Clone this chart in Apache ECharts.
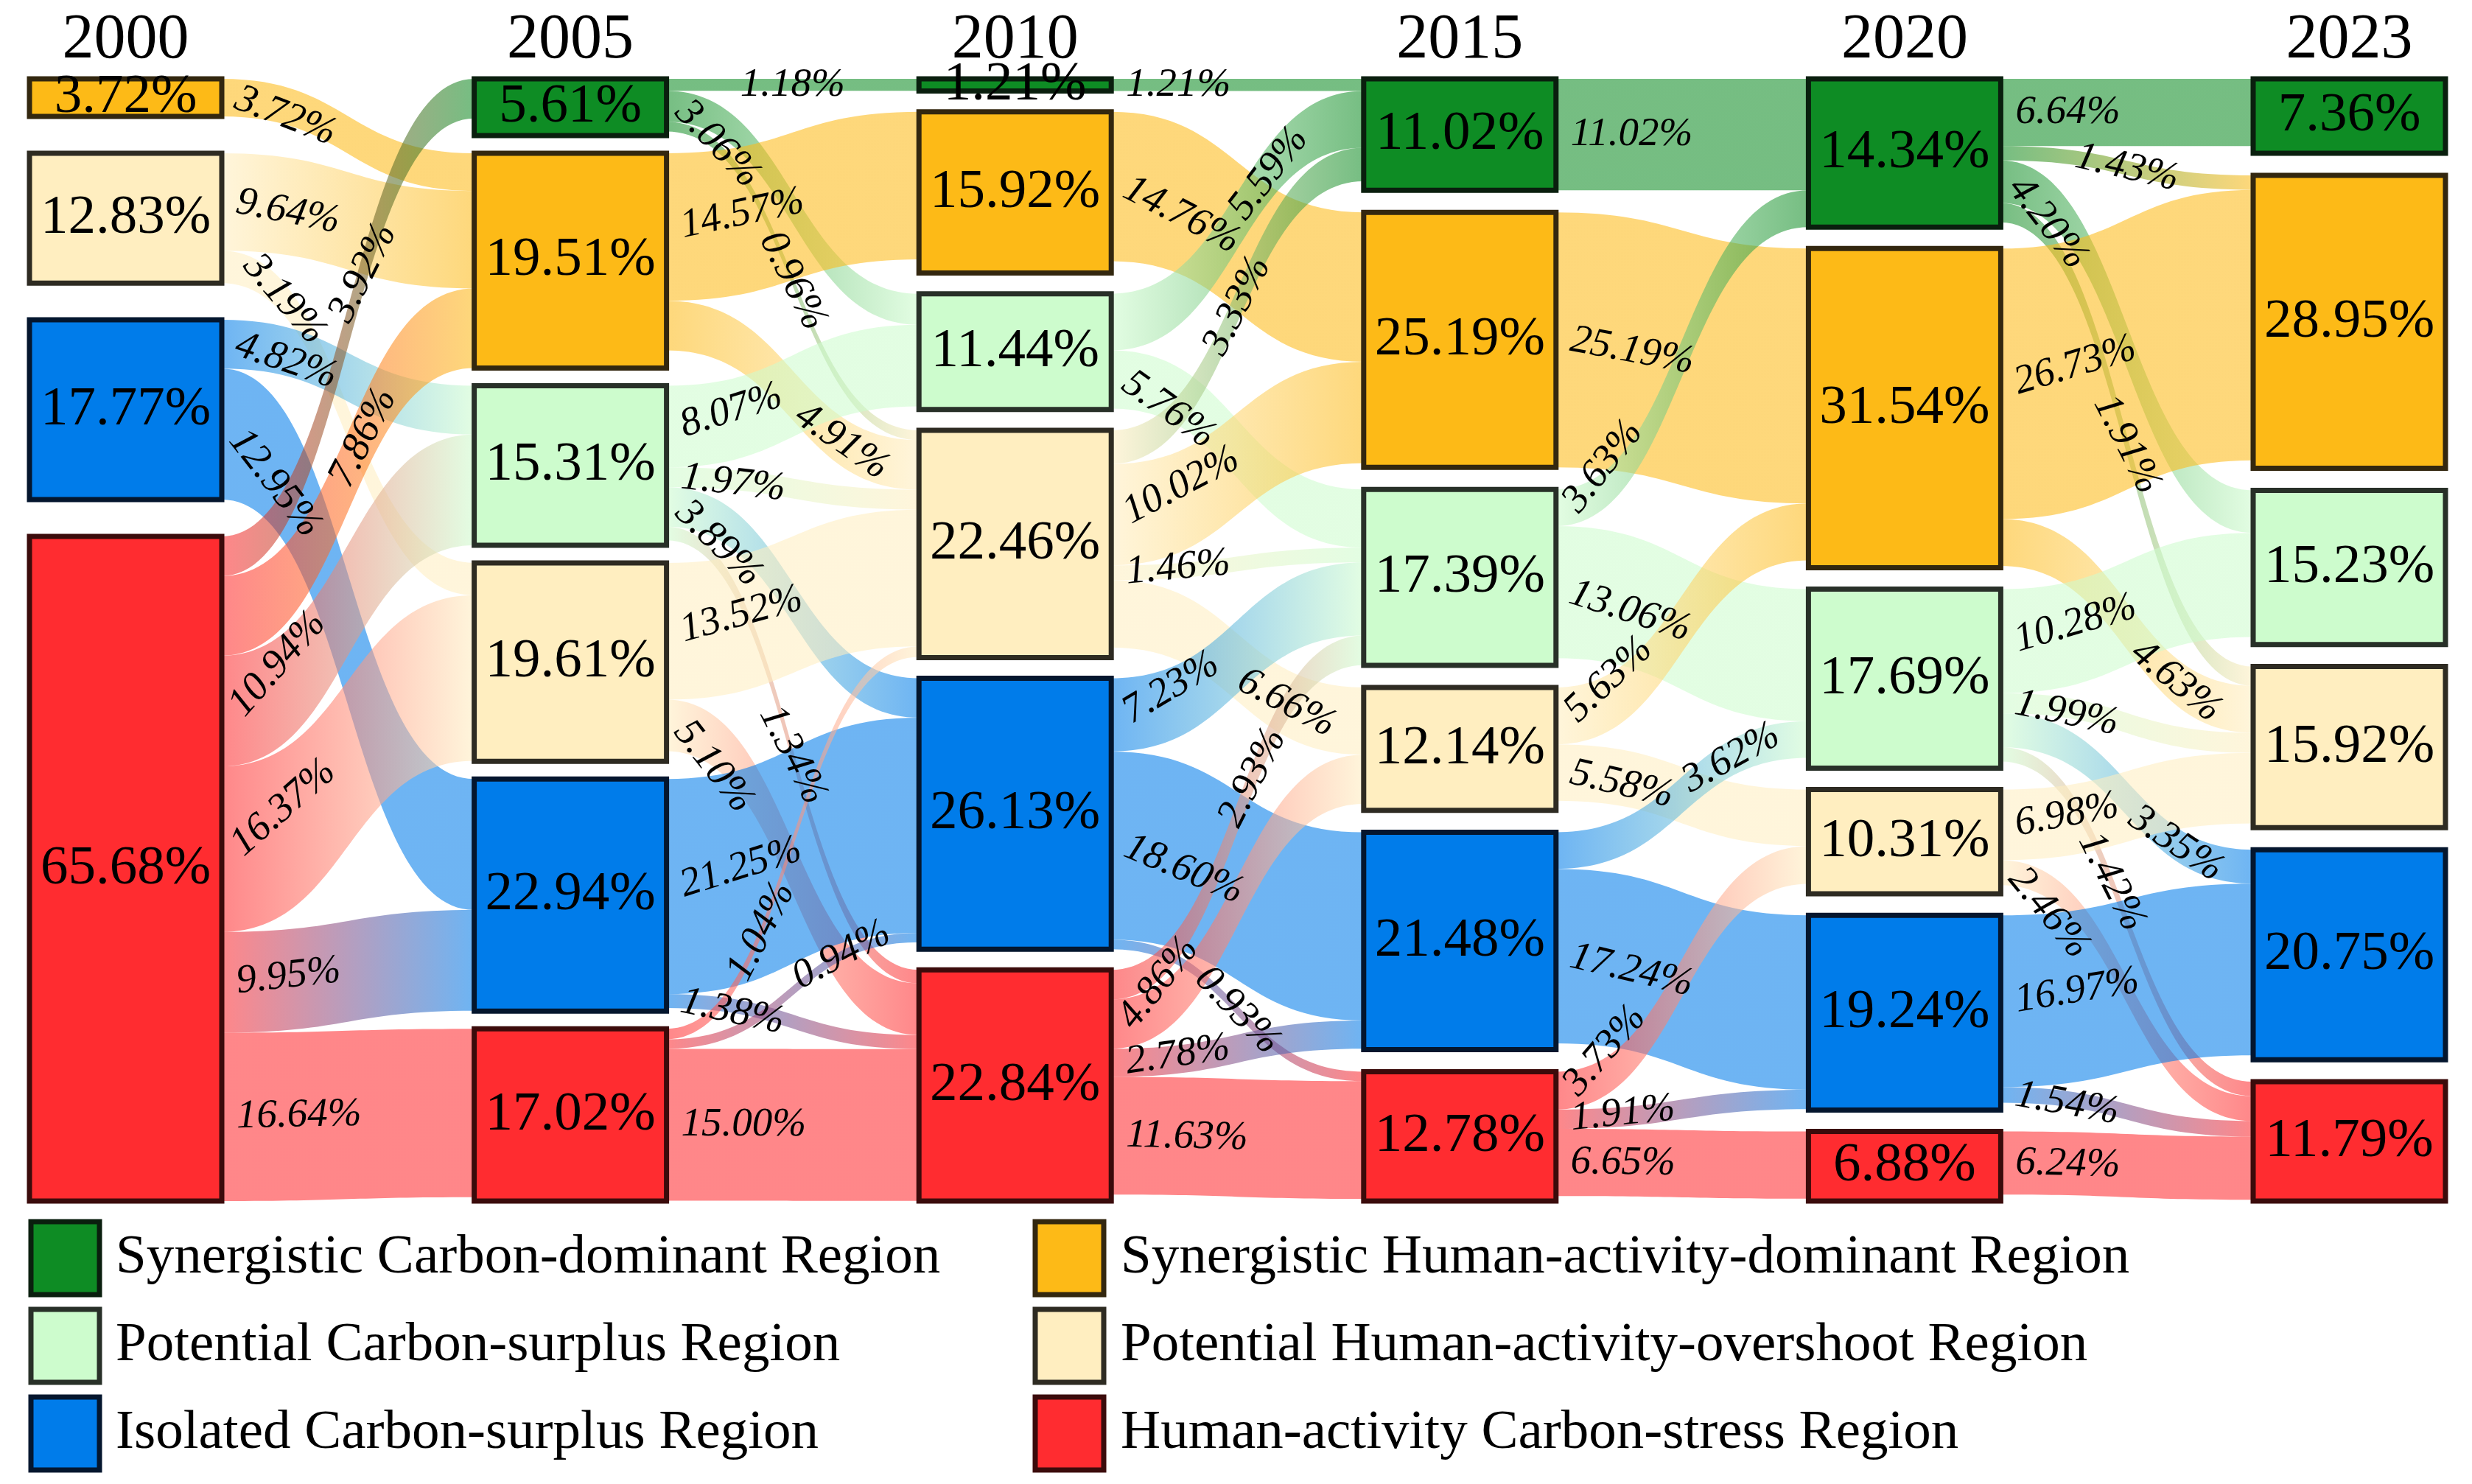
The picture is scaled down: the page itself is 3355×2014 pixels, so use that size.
<!DOCTYPE html>
<html>
<head>
<meta charset="utf-8">
<script src="https://cdn.jsdelivr.net/npm/echarts@6/dist/echarts.min.js"></script>
<style>
html,body{margin:0;padding:0;background:#ffffff;}
#chart{width:3355px;height:2014px;}
</style>
</head>
<body>
<div id="chart"></div>
<script>
// ---------------- DATA ----------------
const years = ['2000', '2005', '2010', '2015', '2020', '2023'];
const categories = ['SC', 'SH', 'PC', 'PH', 'IC', 'HC'];
const categoryNames = [
  'Synergistic Carbon-dominant Region',
  'Synergistic Human-activity-dominant Region',
  'Potential Carbon-surplus Region',
  'Potential Human-activity-overshoot Region',
  'Isolated Carbon-surplus Region',
  'Human-activity Carbon-stress Region'
];
// node shares (%) per year, in category order; null = class absent
const shares2000 = [null, 3.72, null, 12.83, 17.77, 65.68];
const shares2005 = [5.61, 19.51, 15.31, 19.61, 22.94, 17.02];
const shares2010 = [1.21, 15.92, 11.44, 22.46, 26.13, 22.84];
const shares2015 = [11.02, 25.19, 17.39, 12.14, 21.48, 12.78];
const shares2020 = [14.34, 31.54, 17.69, 10.31, 19.24, 6.88];
const shares2023 = [7.36, 28.95, 15.23, 15.92, 20.75, 11.79];

// transitions [from class, to class, share %]
const flows2000to2005 = [
  ['SH','SH',3.72], ['PH','SH',9.64], ['PH','PH',3.19],
  ['IC','PC',4.82], ['IC','IC',12.95],
  ['HC','SC',3.92], ['HC','SH',7.86], ['HC','PC',10.94], ['HC','PH',16.37], ['HC','IC',9.95], ['HC','HC',16.64]
];
const flows2005to2010 = [
  ['SC','SC',1.18], ['SC','PC',3.06], ['SC','PH',0.96],
  ['SH','SH',14.57], ['SH','PH',4.91],
  ['PC','PC',8.07], ['PC','PH',1.97], ['PC','IC',3.89], ['PC','HC',1.34],
  ['PH','PH',13.52], ['PH','HC',5.10],
  ['IC','IC',21.25], ['IC','HC',1.38],
  ['HC','PH',1.04], ['HC','IC',0.94], ['HC','HC',15.00]
];
const flows2010to2015 = [
  ['SC','SC',1.21],
  ['SH','SH',14.76],
  ['PC','SC',5.59], ['PC','PC',5.76],
  ['PH','SC',3.33], ['PH','SH',10.02], ['PH','PC',1.46], ['PH','PH',6.66],
  ['IC','PC',7.23], ['IC','IC',18.60], ['IC','HC',0.93],
  ['HC','PC',2.93], ['HC','PH',4.86], ['HC','IC',2.78], ['HC','HC',11.63]
];
const flows2015to2020 = [
  ['SC','SC',11.02],
  ['SH','SH',25.19],
  ['PC','SC',3.63], ['PC','PC',13.06],
  ['PH','SH',5.63], ['PH','PH',5.58],
  ['IC','PC',3.62], ['IC','IC',17.24],
  ['HC','PH',3.73], ['HC','IC',1.91], ['HC','HC',6.65]
];
const flows2020to2023 = [
  ['SC','SC',6.64], ['SC','SH',1.43], ['SC','PC',4.20], ['SC','PH',1.91],
  ['SH','SH',26.73], ['SH','PH',4.63],
  ['PC','PC',10.28], ['PC','PH',1.99], ['PC','IC',3.35], ['PC','HC',1.42],
  ['PH','PH',6.98], ['PH','HC',2.46],
  ['IC','IC',16.97], ['IC','HC',1.54],
  ['HC','HC',6.24]
];

// ---------------- STYLE ----------------
const categoryColors = ['#0e8c24', '#fdba17', '#cdfccd', '#ffeec0', '#007cea', '#ff2c30'];
const borderColors   = ['#0a1f0e', '#33270f', '#283028', '#2e2b22', '#04162e', '#3b0b0b'];
const SERIF = 'Liberation Serif';
const TOP = 107, BOTTOM = 384, LEFT = 40, RIGHT = 36, NODE_W = 261, NODE_GAP = 24;
const CH = 2014;
const EDGE_FONT = 'italic 55px "' + SERIF + '"';

// ---------------- BUILD ----------------
const sharesByYear = [shares2000, shares2005, shares2010, shares2015, shares2020, shares2023];
const flowsByStep = [flows2000to2005, flows2005to2010, flows2010to2015, flows2015to2020, flows2020to2023];
const nodeName = (yi, cat) => years[yi] + ' ' + cat;

const raw = {};
const columns = [];
sharesByYear.forEach((arr, yi) => {
  const col = [];
  arr.forEach((v, ci) => {
    if (v == null) return;
    const n = nodeName(yi, categories[ci]);
    raw[n] = v;
    col.push(n);
  });
  columns.push(col);
});
const links = [];
flowsByStep.forEach((fl, si) => {
  fl.forEach(f => links.push({ source: nodeName(si, f[0]), target: nodeName(si + 1, f[1]), value: f[2] }));
});
const inSum = {}, outSum = {};
links.forEach(l => {
  outSum[l.source] = (outSum[l.source] || 0) + l.value;
  inSum[l.target] = (inSum[l.target] || 0) + l.value;
});
const layoutVal = n => Math.max(inSum[n] || 0, outSum[n] || 0, raw[n] || 0);
const H = CH - TOP - BOTTOM;
let ky = Infinity;
columns.forEach(col => {
  const s = col.reduce((a, n) => a + layoutVal(n), 0);
  ky = Math.min(ky, (H - (col.length - 1) * NODE_GAP) / s);
});
// justify every column over the full height
const localY = {};
columns.forEach(col => {
  const total = col.reduce((a, n) => a + layoutVal(n) * ky, 0);
  const gap = (H - total) / (col.length - 1);
  let y = 0;
  col.forEach(n => { localY[n] = y / H; y += layoutVal(n) * ky + gap; });
});

const nodes = [];
columns.forEach((col, yi) => {
  col.forEach(n => {
    const ci = categories.indexOf(n.split(' ')[1]);
    nodes.push({
      name: n,
      value: raw[n],
      depth: yi,
      localY: localY[n],
      itemStyle: { color: categoryColors[ci], borderColor: borderColors[ci] }
    });
  });
});

const chart = echarts.init(document.getElementById('chart'), null, { renderer: 'canvas' });
chart.setOption({
  backgroundColor: '#ffffff',
  animation: false,
  textStyle: { fontFamily: SERIF },
  series: [{
    type: 'sankey',
    left: LEFT, right: RIGHT, top: TOP, bottom: BOTTOM,
    nodeWidth: NODE_W,
    nodeGap: NODE_GAP,
    layoutIterations: 0,
    draggable: false,
    nodeAlign: 'justify',
    emphasis: { disabled: true },
    data: nodes,
    links: links,
    itemStyle: { borderWidth: 7 },
    lineStyle: { color: 'gradient', opacity: 0.57, curveness: 0.5 },
    label: {
      show: true,
      position: 'inside',
      color: '#000',
      fontFamily: SERIF,
      fontSize: 75,
      formatter: p => Number(p.data.value).toFixed(2) + '%'
    },
    edgeLabel: { show: false }
  }]
});

// ---------- labels derived from the library's layout ----------
const series = chart.getModel().getSeriesByIndex(0);
const graph = series.getGraph();
const li = series.layoutInfo;
const nodeTop = node => {
  const ly = node.getModel().get('localY');
  return ly != null ? ly * li.height : node.getLayout().y;
};
const ctx = document.createElement('canvas').getContext('2d');
ctx.font = EDGE_FONT;

function obbCentered(cx, cy, ang, w, h) {
  const ux = Math.cos(ang), uy = Math.sin(ang);
  return { cx, cy, ux, uy, vx: -uy, vy: ux, hw: w / 2, hh: h / 2 };
}
function overlap(a, b) {
  const axes = [[a.ux, a.uy], [a.vx, a.vy], [b.ux, b.uy], [b.vx, b.vy]];
  const dx = b.cx - a.cx, dy = b.cy - a.cy;
  for (const [x, y] of axes) {
    const ra = a.hw * Math.abs(a.ux * x + a.uy * y) + a.hh * Math.abs(a.vx * x + a.vy * y);
    const rb = b.hw * Math.abs(b.ux * x + b.uy * y) + b.hh * Math.abs(b.vx * x + b.vy * y);
    if (Math.abs(dx * x + dy * y) > ra + rb) return false;
  }
  return true;
}

const edgeInfos = graph.edges.map(e => {
  const el = e.getLayout();
  const n1 = e.node1.getLayout();
  const n2 = e.node2.getLayout();
  const x1 = li.x + n1.x + n1.dx;
  const y1 = li.y + nodeTop(e.node1) + el.sy + el.dy / 2;
  const x2 = li.x + n2.x;
  const y2 = li.y + nodeTop(e.node2) + el.ty + el.dy / 2;
  return { x1, y1, x2, y2, value: Number(e.getValue()) };
});
const placed = [];
const elements = [];
const order = edgeInfos.map((d, i) => i).sort((a, b) => edgeInfos[b].value - edgeInfos[a].value);
const midCandidates = [0.5, 0.42, 0.58, 0.34, 0.66, 0.26, 0.74, 0.2, 0.8];
order.forEach(i => {
  const d = edgeInfos[i];
  const text = d.value.toFixed(2) + '%';
  const w = ctx.measureText(text).width;
  const h = 42;
  const dx = d.x2 - d.x1, dy = d.y2 - d.y1;
  const cap = 52 * Math.PI / 180;
  const base = Math.max(-cap, Math.min(cap, Math.atan(1.3 * dy / dx)));
  const cands = [];
  {
    const ax = d.x1 + 20, ay = d.y1;
    const ux = Math.cos(base), uy = Math.sin(base);
    cands.push({ ax, ay, ang: base, align: 'left', box: obbCentered(ax + ux * w / 2, ay + uy * w / 2, base, w + 6, h) });
  }
  midCandidates.forEach(t => {
    const px = d.x1 + dx * (1.5 * t - 1.5 * t * t + t * t * t);
    const py = d.y1 + dy * (3 * t * t - 2 * t * t * t);
    let ang = Math.atan2(dy * 6 * t * (1 - t), dx * (1.5 - 3 * t + 3 * t * t));
    ang = Math.max(-1.1, Math.min(1.1, ang));
    cands.push({ ax: px, ay: py, ang, align: 'center', box: obbCentered(px, py, ang, w + 6, h) });
  });
  let chosen = null, best = Infinity;
  for (const c of cands) {
    const hits = placed.filter(p => overlap(p, c.box)).length;
    if (hits < best) { best = hits; chosen = c; }
    if (hits === 0) break;
  }
  placed.push(chosen.box);
  elements.push({
    type: 'text', silent: true, z: 50,
    x: chosen.ax, y: chosen.ay, rotation: -chosen.ang,
    style: {
      text: text,
      font: EDGE_FONT,
      fill: '#000',
      textAlign: chosen.align, textVerticalAlign: 'middle',
      align: chosen.align, verticalAlign: 'middle'
    }
  });
});
// year titles above each column
const colCenters = {};
graph.nodes.forEach(n => {
  const name = String(n.getModel().get('name'));
  const l = n.getLayout();
  colCenters[name.split(' ')[0]] = li.x + l.x + l.dx / 2;
});
years.forEach(y => {
  if (colCenters[y] == null) return;
  elements.push({
    type: 'text', silent: true, z: 50,
    x: colCenters[y], y: 55,
    style: {
      text: y, font: '86px "' + SERIF + '"', fill: '#000',
      textAlign: 'center', textVerticalAlign: 'middle',
      align: 'center', verticalAlign: 'middle'
    }
  });
});
// legend
const legendCols = [{ sx: 42, tx: 157 }, { sx: 1405, tx: 1521 }];
const legendRows = [1658, 1777, 1896];
categories.forEach((c0, ci) => {
  const c = legendCols[ci % 2];
  const r = legendRows[Math.floor(ci / 2)];
  elements.push({
    type: 'rect', silent: true, z: 50,
    shape: { x: c.sx, y: r, width: 93, height: 99 },
    style: { fill: categoryColors[ci], stroke: borderColors[ci], lineWidth: 7 }
  });
  elements.push({
    type: 'text', silent: true, z: 50,
    x: c.tx, y: r + 49,
    style: {
      text: categoryNames[ci], font: '75px "' + SERIF + '"', fill: '#000',
      textAlign: 'left', textVerticalAlign: 'middle',
      align: 'left', verticalAlign: 'middle'
    }
  });
});
chart.setOption({ graphic: { elements: elements } });
</script>
</body>
</html>
